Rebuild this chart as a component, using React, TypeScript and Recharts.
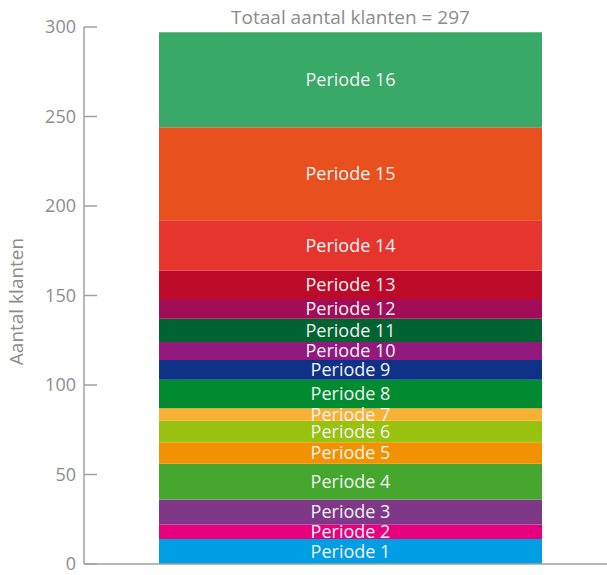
import React from 'react';
import { BarChart, Bar, XAxis, YAxis, LabelList } from 'recharts';

const periods = [
  'Periode 1', 'Periode 2', 'Periode 3', 'Periode 4', 'Periode 5', 'Periode 6',
  'Periode 7', 'Periode 8', 'Periode 9', 'Periode 10', 'Periode 11', 'Periode 12',
  'Periode 13', 'Periode 14', 'Periode 15', 'Periode 16'
];
const klanten = [14, 8, 14, 20, 12, 12, 7, 16, 11, 10, 13, 11, 16, 28, 52, 53];
const colors = [
  '#009fe3', '#e6007e', '#7f3888', '#45a72d', '#f39200', '#99c10f',
  '#f8b133', '#008b31', '#0e3286', '#921a7e', '#006430', '#a10e57',
  '#bc0a28', '#e6352f', '#e8501e', '#38a966'
];
const yTicks = [0, 50, 100, 150, 200, 250, 300];
const total = klanten.reduce((s, v) => s + v, 0);

const row: Record<string, any> = { name: 'klanten' };
periods.forEach((p, i) => { row[`p${i}`] = klanten[i]; });
const data = [row];

const FONT = '"Open Sans", "Noto Sans", sans-serif';
const GREY = '#8c8c8c';

function YTick(props: any) {
  const { x, y, payload } = props;
  return (
    <g>
      <line x1={x} x2={x + 13} y1={y} y2={y} stroke="#a0a0a0" strokeWidth={1.5} />
      <text x={x - 8} y={y} dy={6} textAnchor="end" fill={GREY} fontSize={18} fontFamily={FONT}>
        {payload.value}
      </text>
    </g>
  );
}

function YLabel(props: any) {
  const { viewBox } = props;
  const cy = viewBox.y + viewBox.height / 2 + 6;
  return (
    <text
      x={16}
      y={cy}
      transform={`rotate(-90, 16, ${cy})`}
      dy={7}
      textAnchor="middle"
      fill={GREY}
      fontSize={19}
      fontFamily={FONT}
    >
      Aantal klanten
    </text>
  );
}

export default function App() {
  return (
    <div style={{ position: 'absolute', left: 0, top: 0 }}>
      <BarChart
        width={607}
        height={575}
        data={data}
        margin={{ top: 27, right: 0, bottom: 10, left: 0 }}
        barCategoryGap={0}
      >
        <XAxis
          dataKey="name"
          tick={false}
          tickLine={false}
          height={1}
          stroke="#a0a0a0"
          strokeWidth={1.5}
          padding={{ left: 10, right: 0 }}
        />
        <YAxis
          width={84}
          domain={[0, 300]}
          ticks={yTicks}
          interval={0}
          tickLine={false}
          tickSize={0}
          tickMargin={0}
          tick={<YTick />}
          stroke="#a0a0a0"
          strokeWidth={1.5}
          label={<YLabel />}
        />
        {periods.map((p, i) => (
          <Bar
            key={p}
            dataKey={`p${i}`}
            stackId="a"
            fill={colors[i]}
            barSize={383}
            isAnimationActive={false}
          >
            <LabelList
              dataKey={`p${i}`}
              position="center"
              formatter={() => p}
              fill="#f2f2f2"
              fontSize={18}
              fontFamily={FONT}
            />
            {i === periods.length - 1 && (
              <LabelList
                dataKey={`p${i}`}
                position="top"
                offset={8}
                formatter={() => `Totaal aantal klanten = ${total}`}
                fill={GREY}
                fontSize={19}
                fontFamily={FONT}
              />
            )}
          </Bar>
        ))}
      </BarChart>
    </div>
  );
}
